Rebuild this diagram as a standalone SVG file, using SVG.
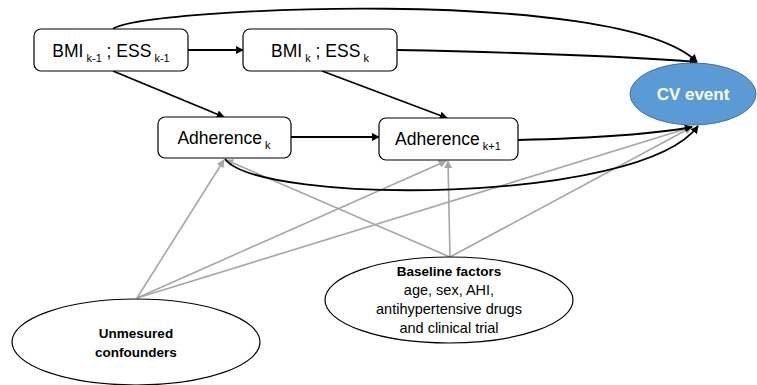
<svg xmlns="http://www.w3.org/2000/svg" width="757" height="385" viewBox="0 0 757 385">
<defs>
<marker id="ab" viewBox="0 0 10 10" refX="9" refY="5" markerWidth="8" markerHeight="8" markerUnits="userSpaceOnUse" orient="auto"><path d="M0,0 L10,5 L0,10 z" fill="#000"/></marker>
<marker id="ag" viewBox="0 0 10 10" refX="9" refY="5" markerWidth="8" markerHeight="8" markerUnits="userSpaceOnUse" orient="auto"><path d="M0,0 L10,5 L0,10 z" fill="#A6A6A6"/></marker>
</defs>
<style>
.box{fill:#fff;stroke:#000;stroke-width:1.2}
.ell{fill:#fff;stroke:#000;stroke-width:1.2}
.t{font-family:"Liberation Sans",Arial,sans-serif;font-size:17.5px;fill:#000;text-anchor:middle}
.s{font-size:11px}
.b{font-family:"Liberation Sans",Arial,sans-serif;font-size:13.5px;font-weight:bold;fill:#000;text-anchor:middle}
.r{font-family:"Liberation Sans",Arial,sans-serif;font-size:14.5px;fill:#000;text-anchor:middle}
.blk{fill:none;stroke:#000;stroke-width:1.8;marker-end:url(#ab)}
.gry{fill:none;stroke:#A6A6A6;stroke-width:1.6;marker-end:url(#ag)}
</style>
<rect width="757" height="385" fill="#fff"/>
<g id="connectors">
<path class="gry" d="M137,298 L224,160"/>
<path class="gry" d="M137,298 L446,161"/>
<path class="gry" d="M137,298 L692,127"/>
<path class="gry" d="M450,257 L226,160"/>
<path class="gry" d="M450,257 L448,161"/>
<path class="gry" d="M450,257 L692,127"/>
<path class="blk" d="M188,50 L243,50"/>
<path class="blk" d="M397,50 C500,52 620,56 697,62"/>
<path class="blk" d="M113,29 C140,8 620,-15 697,62"/>
<path class="blk" d="M113,71 L224,117"/>
<path class="blk" d="M322,71 L447,118"/>
<path class="blk" d="M291,137 L379,137"/>
<path class="blk" d="M518,140 C600,138 660,133 692,127"/>
<path class="blk" d="M225,159 C260,205 640,205 698,126"/>
</g>
<g id="bmi_prev">
<rect class="box" x="34" y="29" width="154" height="42" rx="7"/>
<text class="t" x="111" y="57">BMI<tspan class="s" dy="5"> k-1</tspan><tspan dy="-5"> ; ESS</tspan><tspan class="s" dy="5"> k-1</tspan></text>
</g>
<g id="bmi_k">
<rect class="box" x="243" y="29" width="154" height="42" rx="7"/>
<text class="t" x="320" y="57">BMI<tspan class="s" dy="5"> k</tspan><tspan dy="-5"> ; ESS</tspan><tspan class="s" dy="5"> k</tspan></text>
</g>
<g id="adh_k">
<rect class="box" x="158" y="117" width="133" height="41" rx="7"/>
<text class="t" x="224" y="144">Adherence<tspan class="s" dy="5"> k</tspan></text>
</g>
<g id="adh_k1">
<rect class="box" x="379" y="118" width="139" height="42" rx="7"/>
<text class="t" x="448" y="145">Adherence<tspan class="s" dy="5"> k+1</tspan></text>
</g>
<g id="cv">
<ellipse cx="693" cy="94" rx="63" ry="31" fill="#5B9BD5" stroke="#41719C" stroke-width="1"/>
<text x="693" y="100" font-family="'Liberation Sans',Arial,sans-serif" font-size="17px" font-weight="bold" fill="#fff" text-anchor="middle">CV event</text>
</g>
<g id="baseline">
<ellipse class="ell" cx="449" cy="300" rx="124" ry="43"/>
<text class="b" x="449" y="276">Baseline factors</text>
<text class="r" x="449" y="295">age, sex, AHI,</text>
<text class="r" x="449" y="314">antihypertensive drugs</text>
<text class="r" x="449" y="333">and clinical trial</text>
</g>
<g id="unmeasured">
<ellipse class="ell" cx="136" cy="342" rx="124" ry="43"/>
<text class="b" x="136" y="338">Unmesured</text>
<text class="b" x="136" y="357">confounders</text>
</g>
</svg>
